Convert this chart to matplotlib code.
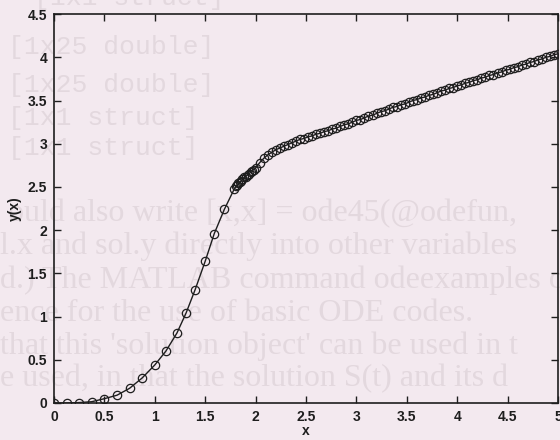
import matplotlib
matplotlib.use("Agg")
import matplotlib.pyplot as plt

# Solution samples returned by the solver (x, y(x))
x_vals = [0.0, 0.125, 0.25, 0.375, 0.5, 0.625, 0.75, 0.875, 1.0, 1.11, 1.22, 1.31,
          1.40, 1.50, 1.59, 1.69,
          1.79, 1.81, 1.82, 1.83, 1.85, 1.86, 1.87, 1.89, 1.90, 1.92, 1.93, 1.95,
          1.96, 1.98,
          2.00, 2.04, 2.08, 2.12, 2.16, 2.20, 2.24, 2.28, 2.32, 2.36, 2.40, 2.44,
          2.48, 2.52, 2.56, 2.60, 2.64, 2.68, 2.72, 2.76, 2.80, 2.84, 2.88, 2.92,
          2.96, 3.00, 3.04, 3.08, 3.12, 3.16, 3.20, 3.24, 3.28, 3.32, 3.36, 3.40,
          3.44, 3.48, 3.52, 3.56, 3.60, 3.64, 3.68, 3.72, 3.76, 3.80, 3.84, 3.88,
          3.92, 3.96, 4.00, 4.04, 4.08, 4.12, 4.16, 4.20, 4.24, 4.28, 4.32, 4.36,
          4.40, 4.44, 4.48, 4.52, 4.56, 4.60, 4.64, 4.68, 4.72, 4.76, 4.80, 4.84,
          4.88, 4.92, 4.96, 5.00]
y_vals = [0.0, 0.0, 0.005, 0.015, 0.05, 0.09, 0.17, 0.29, 0.44, 0.60, 0.81, 1.04,
          1.31, 1.64, 1.96, 2.24,
          2.48, 2.51, 2.52, 2.54, 2.56, 2.57, 2.59, 2.61, 2.62, 2.64, 2.65, 2.67,
          2.69, 2.70,
          2.72, 2.78, 2.83, 2.87, 2.90, 2.93, 2.95, 2.97, 2.99, 3.01, 3.03, 3.05,
          3.06, 3.08, 3.09, 3.11, 3.12, 3.14, 3.15, 3.17, 3.18, 3.20, 3.22, 3.23,
          3.25, 3.27, 3.28, 3.30, 3.32, 3.33, 3.35, 3.37, 3.38, 3.40, 3.42, 3.43,
          3.45, 3.46, 3.48, 3.50, 3.51, 3.53, 3.54, 3.56, 3.57, 3.59, 3.61, 3.62,
          3.64, 3.65, 3.67, 3.68, 3.70, 3.71, 3.73, 3.74, 3.76, 3.77, 3.79, 3.80,
          3.82, 3.83, 3.85, 3.86, 3.88, 3.89, 3.91, 3.92, 3.94, 3.95, 3.97, 3.98,
          4.00, 4.01, 4.03, 4.04]

x_ticks = [0, 0.5, 1, 1.5, 2, 2.5, 3, 3.5, 4, 4.5, 5]
x_tick_labels = ["0", "0.5", "1", "1.5", "2", "2.5", "3", "3.5", "4", "4.5", "5"]
y_ticks = [0, 0.5, 1, 1.5, 2, 2.5, 3, 3.5, 4, 4.5]
y_tick_labels = ["0", "0.5", "1", "1.5", "2", "2.5", "3", "3.5", "4", "4.5"]

# Faint print showing through the page
page_lines_mono = [
    (0.06, 1.005, "[1x1 struct]"),
    (0.015, 0.893, "[1x25 double]"),
    (0.015, 0.807, "[1x25 double]"),
    (0.015, 0.732, "[1x1 struct]"),
    (0.015, 0.663, "[1x1 struct]"),
]
page_lines_serif = [
    (0.015, 0.515, "ould also write [x,x] = ode45(@odefun,"),
    (0.0, 0.440, "l.x and sol.y directly into other variables"),
    (0.0, 0.363, "d.) The MATLAB command odeexamples c"),
    (0.0, 0.288, "ence for the use of basic ODE codes."),
    (0.0, 0.213, "that this 'solution object' can be used in t"),
    (0.0, 0.140, "e used, in that the solution S(t) and its d"),
]

paper = "#f3e9ef"
ghost = "#e3d8de"
ink = "#1e1e1e"

fig = plt.figure(figsize=(5.6, 4.4), dpi=100, facecolor=paper)

for x0, y0, s in page_lines_mono:
    fig.text(x0, y0, s, family="Liberation Mono", fontsize=19, color=ghost,
             va="center", ha="left", zorder=0)
for x0, y0, s in page_lines_serif:
    fig.text(x0, y0, s, family="Liberation Serif", fontsize=23, color=ghost,
             va="center", ha="left", zorder=0)

ax = fig.add_axes([0.0964, 0.0841, 0.9, 0.8839])
ax.set_facecolor("none")
ax.set_zorder(1)

ax.plot(x_vals, y_vals, "-o", color=ink, linewidth=1.0, markersize=6,
        markerfacecolor="none", markeredgecolor=ink, markeredgewidth=0.9)

ax.set_xlim(0, 5)
ax.set_ylim(0, 4.5)
ax.set_xticks(x_ticks)
ax.set_xticklabels(x_tick_labels)
ax.set_yticks(y_ticks)
ax.set_yticklabels(y_tick_labels)

ax.tick_params(direction="in", length=5, width=1, top=True, right=True,
               colors=ink, labelsize=10, pad=5)
for lab in ax.get_xticklabels() + ax.get_yticklabels():
    lab.set_fontweight("bold")
    lab.set_family("Liberation Sans")
for sp in ax.spines.values():
    sp.set_linewidth(1.2)
    sp.set_color(ink)

ax.set_xlabel("x", fontsize=10, family="Liberation Sans", fontweight="bold",
              color=ink, labelpad=0)
ax.set_ylabel("y(x)", fontsize=10, family="Liberation Sans", fontweight="bold",
              color=ink, labelpad=4)

fig.savefig("out.png", dpi=100, facecolor=paper)
